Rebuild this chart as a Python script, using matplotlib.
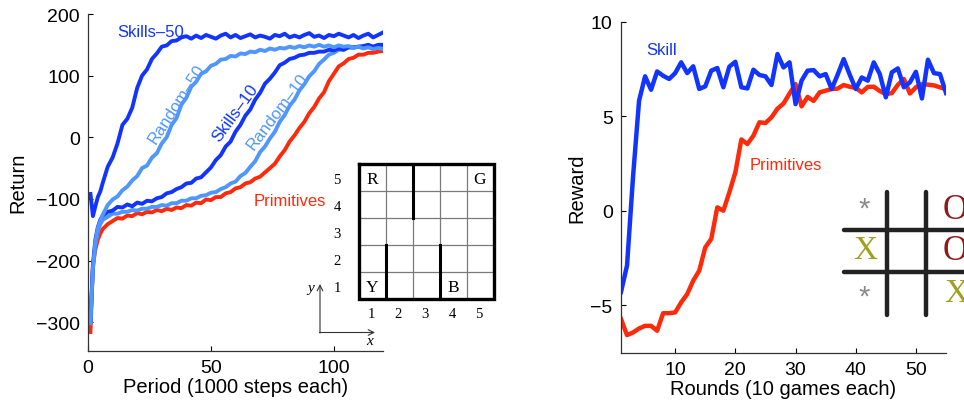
import numpy as np
import matplotlib
matplotlib.use("Agg")
import matplotlib.pyplot as plt

plt.rcParams['font.family'] = ['Liberation Sans', 'DejaVu Sans']

# Datos panel izquierdo (taxi)
periodos = np.r_[1:7, 8:121:2]
skills_50 = [-92, -128, -112, -97, -88, -74,
             -48, -33, -10, 20, 30, 48, 80, 100, 110, 127,
             136, 147, 149, 156, 157, 162, 164, 160, 165, 161,
             166, 163, 160, 165, 168, 162, 166, 161, 164, 167,
             162, 165, 163, 160, 166, 164, 168, 162, 165, 162,
             166, 169, 163, 165, 161, 166, 164, 168, 165, 162,
             166, 161, 165, 168, 162, 166, 170]
random_50 = [-302, -212, -170, -148, -136, -126,
             -110, -101, -96, -86, -80, -70, -63, -50, -46, -33,
             -26, -10, 0, 20, 31, 53, 64, 82, 90, 103,
             107, 116, 119, 126, 127, 132, 131, 136, 135, 139,
             138, 142, 140, 144, 142, 145, 144, 147, 145, 148,
             146, 149, 147, 150, 147, 149, 146, 149, 147, 148,
             145, 147, 144, 146, 143, 145, 143]
skills_10 = [-300, -206, -166, -146, -134, -127,
             -121, -119, -113, -114, -109, -112, -106, -108, -103, -104,
             -99, -97, -91, -89, -84, -81, -75, -74, -67, -65,
             -57, -49, -37, -29, -15, -7, 9, 20, 35, 45,
             61, 72, 87, 95, 105, 117, 121, 127, 129, 133,
             134, 137, 137, 139, 139, 142, 141, 144, 142, 146,
             146, 147, 148, 150, 147, 150, 150]
random_10 = [-300, -214, -174, -153, -141, -134,
             -129, -124, -124, -121, -121, -118, -119, -116, -116, -113,
             -113, -110, -111, -107, -107, -103, -103, -99, -99, -95,
             -94, -90, -89, -84, -81, -75, -72, -63, -58, -48,
             -39, -24, -15, -2, 9, 25, 36, 51, 61, 76,
             86, 99, 107, 119, 126, 134, 137, 142, 142, 146,
             145, 147, 145, 147, 144, 146, 145]
primitivas = [-316, -208, -182, -166, -156, -149,
              -141, -136, -131, -132, -127, -128, -123, -125, -121, -122,
              -118, -120, -116, -118, -114, -115, -110, -111, -106, -107,
              -101, -102, -97, -97, -91, -89, -83, -81, -75, -73,
              -67, -64, -57, -50, -43, -31, -21, -7, 3, 15,
              25, 39, 49, 63, 73, 91, 103, 115, 120, 127,
              129, 134, 134, 137, 137, 139, 140]

# Datos panel derecho (tres en raya)
rondas = np.arange(1, 56)
skill = [-4.3, -2.9, 1.8, 5.82, 7.11, 6.40, 7.37, 7.14, 6.97, 7.28,
         7.85, 7.28, 7.64, 6.44, 6.58, 7.41, 7.55, 6.53, 7.62, 7.88,
         6.53, 6.47, 7.46, 7.18, 7.11, 6.65, 8.29, 7.58, 7.85, 5.64,
         6.88, 7.41, 7.44, 7.11, 7.23, 6.44, 7.2, 8.02, 7.2, 6.44,
         7.05, 6.88, 7.85, 7.23, 6.0, 7.32, 7.53, 6.53, 6.79, 7.35,
         5.94, 7.99, 7.28, 7.23, 6.23]
prim_ttt = [-5.73, -6.58, -6.44, -6.23, -6.09, -6.09, -6.35, -5.42, -5.42, -5.38,
            -4.85, -4.41, -3.7, -3.17, -1.94, -1.49, 0.18, 0.0, 0.97, 2.03,
            3.77, 3.53, 3.97, 4.68, 4.64, 4.94, 5.4, 5.67, 6.2, 6.7,
            5.52, 6.02, 5.81, 6.26, 6.35, 6.44, 6.46, 6.65, 6.56, 6.5,
            6.26, 6.55, 6.56, 6.33, 6.17, 6.22, 6.66, 6.97, 6.2, 6.53,
            6.7, 6.67, 6.63, 6.53, 6.43]

azul = '#1234ff'
celeste = '#4f96ff'
rojo = '#ff2a0a'

W, H = 964, 402
fig = plt.figure(figsize=(W / 100, H / 100), dpi=100)


def estilo(ax):
    for s in ['top', 'right']:
        ax.spines[s].set_visible(False)
    for s in ['left', 'bottom']:
        ax.spines[s].set_color('#333333')
        ax.spines[s].set_linewidth(0.9)
    ax.tick_params(direction='in', length=3.5, width=0.8, labelsize=14, pad=6)


ax1 = fig.add_axes([88 / W, 1 - 351.5 / H, 295 / W, 336.5 / H])
lw = 2.8
ax1.plot(periodos, primitivas, color=rojo, lw=lw)
ax1.plot(periodos, random_10, color=celeste, lw=lw)
ax1.plot(periodos, skills_10, color=azul, lw=lw)
ax1.plot(periodos, random_50, color=celeste, lw=lw)
ax1.plot(periodos, skills_50, color=azul, lw=lw)
ax1.set_xlim(0, 120)
ax1.set_ylim(-346, 200)
ax1.set_xticks([0, 50, 100])
ax1.set_yticks([-300, -200, -100, 0, 100, 200])
estilo(ax1)
ax1.set_xlabel('Period (1000 steps each)', fontsize=14.5, labelpad=1)
ax1.set_ylabel('Return', fontsize=14.5, labelpad=6)

fs_lab = 12
ax1.text(12, 171, 'Skills\u201350', color=azul, fontsize=fs_lab, va='center')
ax1.text(36, 55, 'Random\u201350', color=celeste, fontsize=fs_lab, rotation=57,
         ha='center', va='center', rotation_mode='anchor')
ax1.text(60, 40, 'Skills\u201310', color=azul, fontsize=fs_lab, rotation=54,
         ha='center', va='center', rotation_mode='anchor')
ax1.text(77, 42, 'Random\u201310', color=celeste, fontsize=fs_lab, rotation=53,
         ha='center', va='center', rotation_mode='anchor')
ax1.text(67.5, -103, 'Primitives', color=rojo, fontsize=fs_lab, va='center')

ax2 = fig.add_axes([621 / W, 1 - 353.5 / H, 325 / W, 330.8 / H])
ax2.plot(rondas, prim_ttt, color=rojo, lw=3.2)
ax2.plot(rondas, skill, color=azul, lw=3.2)
ax2.set_xlim(1, 55)
ax2.set_ylim(-7.5, 10)
ax2.set_xticks([10, 20, 30, 40, 50])
ax2.set_yticks([-5, 0, 5, 10])
estilo(ax2)
ax2.set_xlabel('Rounds (10 games each)', fontsize=14.5, labelpad=1)
ax2.set_ylabel('Reward', fontsize=14.5, labelpad=3)
ax2.text(5.2, 8.55, 'Skill', color=azul, fontsize=fs_lab, va='center')
ax2.text(22.3, 2.45, 'Primitives', color=rojo, fontsize=fs_lab, va='center')

# Capa superior en pixeles para los dibujos insertados
ov = fig.add_axes([0, 0, 1, 1])
ov.set_xlim(0, W)
ov.set_ylim(H, 0)
ov.axis('off')

# Cuadricula del taxi
gx, gy, c = 359, 165, 27
serif = ['Liberation Serif', 'DejaVu Serif']
for i in range(1, 5):
    ov.plot([gx + i * c, gx + i * c], [gy, gy + 5 * c], color='#7a7a7a', lw=0.9)
    ov.plot([gx, gx + 5 * c], [gy + i * c, gy + i * c], color='#7a7a7a', lw=0.9)
ov.plot([gx, gx + 5 * c, gx + 5 * c, gx, gx], [gy, gy, gy + 5 * c, gy + 5 * c, gy],
        color='black', lw=2.4, solid_joinstyle='miter')
muros = [(1, 0, 2), (3, 0, 2), (2, 3, 5)]
for col, r0, r1 in muros:
    ov.plot([gx + col * c] * 2, [gy + (5 - r0) * c, gy + (5 - r1) * c], color='black', lw=2.2)
letras = [('R', 0, 4), ('G', 4, 4), ('Y', 0, 0), ('B', 3, 0)]
for t, col, row in letras:
    ov.text(gx + col * c + 13, gy + (4 - row) * c + 15, t, family=serif, fontsize=12.5,
            ha='center', va='center')
for k in range(5):
    ov.text(337, gy + (4 - k) * c + 16, str(k + 1), family=serif, fontsize=10.5,
            ha='center', va='center')
    ov.text(gx + k * c + 12, 315, str(k + 1), family=serif, fontsize=10.5,
            ha='center', va='center')
ov.annotate('', xy=(320, 285), xytext=(320, 334),
            arrowprops=dict(arrowstyle='->', lw=0.8, color='#333333', shrinkA=0, shrinkB=0))
ov.annotate('', xy=(375, 333.5), xytext=(319.5, 333.5),
            arrowprops=dict(arrowstyle='->', lw=0.8, color='#333333', shrinkA=0, shrinkB=0))
ov.text(311, 289, 'y', family=serif, style='italic', fontsize=11, ha='center', va='center')
ov.text(370, 342, 'x', family=serif, style='italic', fontsize=11, ha='center', va='center')

# Tablero de tres en raya
tinta = '#222222'
for xv in [886.5, 926]:
    ov.plot([xv, xv], [193, 316], color=tinta, lw=3.2, solid_capstyle='round')
for yv in [230.7, 272.7]:
    ov.plot([844, 970], [yv, yv], color=tinta, lw=3.2, solid_capstyle='round')
gris = '#8a8a8a'
oliva = '#a0a020'
granate = '#8e1b1b'
ov.text(864, 210, '*', color=gris, fontsize=21, ha='center', va='center')
ov.text(864, 298, '*', color=gris, fontsize=21, ha='center', va='center')
ov.text(865, 251, 'X', color=oliva, fontsize=24, family=serif, ha='center', va='center')
ov.text(956, 294, 'X', color=oliva, fontsize=24, family=serif, ha='center', va='center')
ov.text(955, 211, 'O', color=granate, fontsize=25, family=serif, ha='center', va='center')
ov.text(955, 252, 'O', color=granate, fontsize=25, family=serif, ha='center', va='center')

fig.savefig('out.png', dpi=100)
